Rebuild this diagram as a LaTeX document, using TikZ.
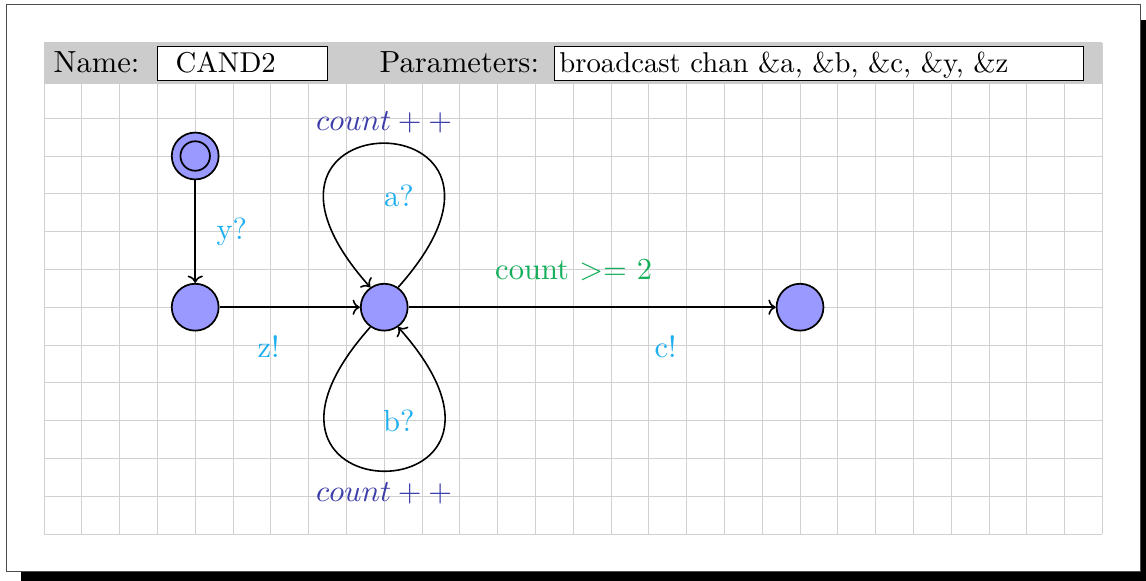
\documentclass[tikz,border=0pt]{standalone}
\usetikzlibrary{positioning,arrows.meta}

\definecolor{locfill}{RGB}{153,153,255}
\definecolor{synccol}{RGB}{30,175,240}
\definecolor{updcol}{RGB}{60,60,170}
\definecolor{guardcol}{RGB}{20,175,90}

\begin{document}
\begin{tikzpicture}[
  font=\normalsize,
  node distance=4cm and 5cm,
  on grid,
  txt/.style={scale=2.3, transform shape, inner sep=0pt},
  boxtxt/.style={scale=2.16, transform shape, inner sep=0pt},
  loc/.style={circle, draw=black, line width=1.3pt, fill=locfill, minimum size=1.24cm, inner sep=0pt},
  arrow/.style={-{To[scale=1.3]}, line width=1.2pt},
  sync/.style={txt, text=synccol},
  upd/.style={txt, text=updcol},
  guard/.style={txt, text=guardcol},
  hdrframe/.style={draw=black, line width=0.6pt, fill=white},
  gridline/.style={draw=black!18, line width=0.6pt}
]

% page, shadow and frame
\useasboundingbox (-1.164,-1.217) rectangle (29.153,14.127);
\fill[black] (-0.6,-1.4) rectangle (29.4,13.6);
\filldraw[fill=white, draw=black!70, line width=0.8pt] (-1,-1) rectangle (29,14);

% grid and header
\draw[gridline] (0,0) grid (28,13);
\fill[black!20] (0,11.9) rectangle (28,13.02);
\draw[hdrframe] (3,12) rectangle (7.5,12.9);
\draw[hdrframe] (13.5,12) rectangle (27.5,12.9);
\node[txt, anchor=base west] (namelbl) at (0.24,12.2) {Name:};
\node[boxtxt, anchor=base west] (namebox) at (3.47,12.2) {CAND2};
\node[txt, anchor=base west] (paramlbl) at (8.86,12.2) {Parameters:};
\node[boxtxt, anchor=base west] (parambox) at (13.62,12.2) {broadcast chan \&a, \&b, \&c, \&y, \&z};

% locations
\node[loc] (init) at (4,10) {};
\draw[line width=1.3pt] (init.center) circle (0.39cm);
\node[loc, below=of init] (wait) {};
\node[loc, right=of wait] (counting) {};
\node[loc, right=11cm of counting] (done) {};

% edges
\draw[arrow] (init) -- node[sync, pos=0.5, xshift=0.422cm] {y?} (wait);
\draw[arrow] (wait) -- node[sync, pos=0.35, yshift=-0.457cm] {z!} (counting);
\draw[arrow] (counting) -- node[guard, pos=0.45, yshift=0.426cm] {count $>=$ 2}
  node[sync, pos=0.7, yshift=-0.457cm] {c!} (done);

\draw[arrow] (counting.55) .. controls +(4.53,5.08) and +(-4.53,5.08) .. (counting.125);
\node[sync] (lbla) at (9.39,8.94) {a?};
\node[upd] (upda) at (9,10.9) {$count++$};

\draw[arrow] (counting.-125) .. controls +(-4.53,-5.08) and +(4.53,-5.08) .. (counting.-55);
\node[sync] (lblb) at (9.39,2.99) {b?};
\node[upd] (updb) at (9,1.08) {$count++$};

\end{tikzpicture}
\end{document}
